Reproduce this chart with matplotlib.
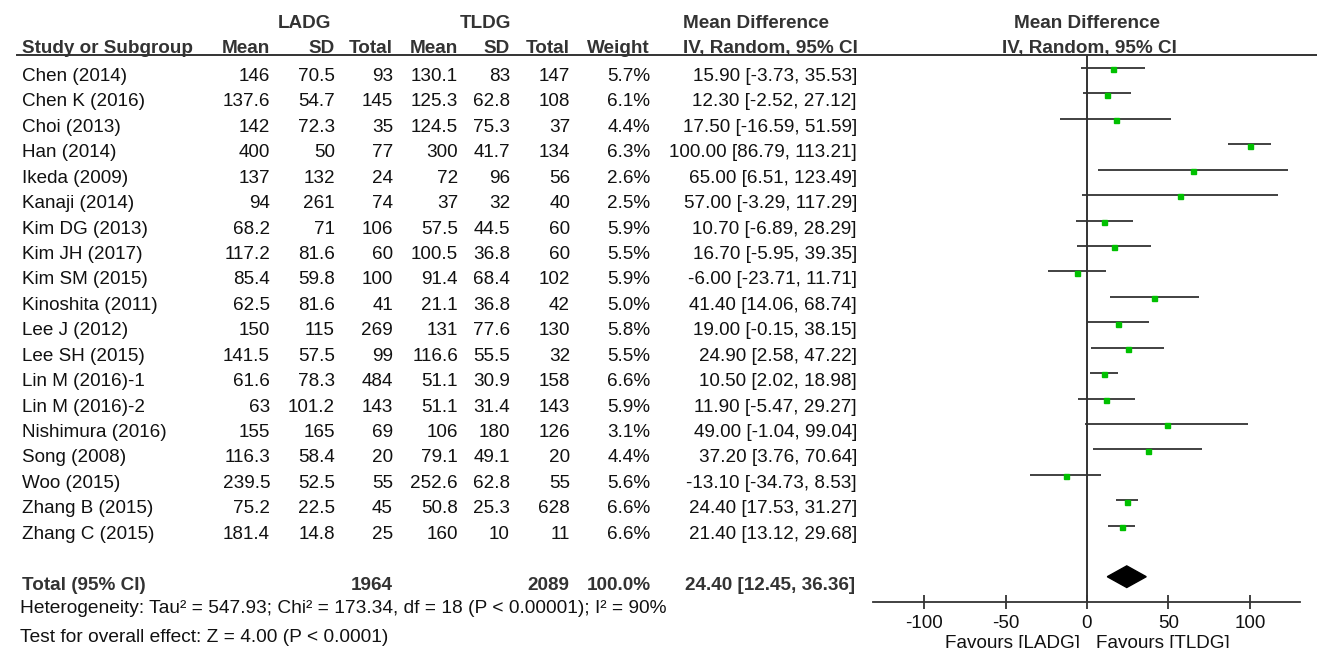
import matplotlib
matplotlib.use("Agg")
import matplotlib.pyplot as plt
from matplotlib.transforms import blended_transform_factory
from matplotlib.patches import Polygon

plt.rcParams['font.family'] = ['Liberation Sans', 'DejaVu Sans']

studies = ["Chen (2014)", "Chen K (2016)", "Choi (2013)", "Han (2014)", "Ikeda (2009)",
           "Kanaji (2014)", "Kim DG (2013)", "Kim JH (2017)", "Kim SM (2015)", "Kinoshita (2011)",
           "Lee J (2012)", "Lee SH (2015)", "Lin M (2016)-1", "Lin M (2016)-2", "Nishimura (2016)",
           "Song (2008)", "Woo (2015)", "Zhang B (2015)", "Zhang C (2015)"]
ladg_mean = ["146", "137.6", "142", "400", "137", "94", "68.2", "117.2", "85.4", "62.5",
             "150", "141.5", "61.6", "63", "155", "116.3", "239.5", "75.2", "181.4"]
ladg_sd = ["70.5", "54.7", "72.3", "50", "132", "261", "71", "81.6", "59.8", "81.6",
           "115", "57.5", "78.3", "101.2", "165", "58.4", "52.5", "22.5", "14.8"]
ladg_n = [93, 145, 35, 77, 24, 74, 106, 60, 100, 41, 269, 99, 484, 143, 69, 20, 55, 45, 25]
tldg_mean = ["130.1", "125.3", "124.5", "300", "72", "37", "57.5", "100.5", "91.4", "21.1",
             "131", "116.6", "51.1", "51.1", "106", "79.1", "252.6", "50.8", "160"]
tldg_sd = ["83", "62.8", "75.3", "41.7", "96", "32", "44.5", "36.8", "68.4", "36.8",
           "77.6", "55.5", "30.9", "31.4", "180", "49.1", "62.8", "25.3", "10"]
tldg_n = [147, 108, 37, 134, 56, 40, 60, 60, 102, 42, 130, 32, 158, 143, 126, 20, 55, 628, 11]
weight = [5.7, 6.1, 4.4, 6.3, 2.6, 2.5, 5.9, 5.5, 5.9, 5.0, 5.8, 5.5, 6.6, 5.9, 3.1, 4.4, 5.6, 6.6, 6.6]
md = [15.90, 12.30, 17.50, 100.00, 65.00, 57.00, 10.70, 16.70, -6.00, 41.40,
      19.00, 24.90, 10.50, 11.90, 49.00, 37.20, -13.10, 24.40, 21.40]
lo = [-3.73, -2.52, -16.59, 86.79, 6.51, -3.29, -6.89, -5.95, -23.71, 14.06,
      -0.15, 2.58, 2.02, -5.47, -1.04, 3.76, -34.73, 17.53, 13.12]
hi = [35.53, 27.12, 51.59, 113.21, 123.49, 117.29, 28.29, 39.35, 11.71, 68.74,
      38.15, 47.22, 18.98, 29.27, 99.04, 70.64, 8.53, 31.27, 29.68]
total_ladg, total_tldg = 1964, 2089
pooled_md, pooled_lo, pooled_hi = 24.40, 12.45, 36.36
xticks = [-100, -50, 0, 50, 100]
het_text = "Heterogeneity: Tau² = 547.93; Chi² = 173.34, df = 18 (P < 0.00001); I² = 90%"
effect_text = "Test for overall effect: Z = 4.00 (P < 0.0001)"

W, H = 1317, 648
fig = plt.figure(figsize=(W / 100, H / 100), dpi=100)
tax = fig.add_axes([0, 0, 1, 1])
tax.set_xlim(0, W)
tax.set_ylim(H, 0)
tax.axis('off')

# forest axes: pixel x 873..1300, y 55..602
row0, row_h = 68.0, 25.43
ax = fig.add_axes([873 / W, (H - 602) / H, (1300 - 873) / W, (602 - 55) / H])
ax.set_ylim((602 - row0) / row_h, (55 - row0) / row_h)
ax.set_xlim(-131.3, 130.7)
for s in ['top', 'right', 'left']:
    ax.spines[s].set_visible(False)
ax.spines['bottom'].set_color('#333333')
ax.spines['bottom'].set_linewidth(1.3)
ax.set_yticks([])
ax.set_xticks(xticks)
ax.set_xticklabels([str(t) for t in xticks])
ax.tick_params(axis='x', direction='inout', length=9.4, width=1.3, colors='#333333',
               labelsize=13.6, labelcolor='#111111', pad=5.0)
ax.axvline(0, color='#333333', lw=1.4, zorder=1)
ax.patch.set_alpha(0)

tc = '#111111'
bc = '#333333'
fs = 13.6
tr = blended_transform_factory(tax.transData, ax.transData)
boff = 13 / row_h  # baseline offset below the row line

for i in range(len(studies)):
    ax.plot([lo[i], hi[i]], [i, i], color='#333333', lw=1.3, zorder=2, solid_capstyle='butt')
    ax.plot([md[i]], [i + 0.05], marker='s', color='#00c000', ms=3.6, mec='#00c000', zorder=3)
    y = i + boff
    kw = dict(transform=tr, va='baseline', fontsize=fs, color=tc)
    tax.text(21.5, y, studies[i], ha='left', **kw)
    tax.text(270, y, ladg_mean[i], ha='right', **kw)
    tax.text(335, y, ladg_sd[i], ha='right', **kw)
    tax.text(393, y, str(ladg_n[i]), ha='right', **kw)
    tax.text(458, y, tldg_mean[i], ha='right', **kw)
    tax.text(510, y, tldg_sd[i], ha='right', **kw)
    tax.text(570, y, str(tldg_n[i]), ha='right', **kw)
    tax.text(650, y, f"{weight[i]:.1f}%", ha='right', **kw)
    tax.text(857, y, f"{md[i]:.2f} [{lo[i]:.2f}, {hi[i]:.2f}]", ha='right', **kw)

# total row
yt = (576.7 - row0) / row_h
dh = 0.425
ax.add_patch(Polygon([[pooled_lo, yt], [pooled_md, yt - dh], [pooled_hi, yt], [pooled_md, yt + dh]],
                     closed=True, color='black', zorder=3))
bold = dict(va='baseline', fontsize=fs, color=bc, fontweight='bold')
yb = 590
tax.text(21.5, yb, "Total (95% CI)", ha='left', **bold)
tax.text(393, yb, str(total_ladg), ha='right', **bold)
tax.text(569, yb, str(total_tldg), ha='right', **bold)
tax.text(651, yb, "100.0%", ha='right', **bold)
tax.text(855, yb, f"{pooled_md:.2f} [{pooled_lo:.2f}, {pooled_hi:.2f}]", ha='right', **bold)

tax.text(20, 613.3, het_text, ha='left', va='baseline', fontsize=13.8, color=tc)
tax.text(20, 641.7, effect_text, ha='left', va='baseline', fontsize=13.8, color=tc)

# headers
h1, h2 = 28, 53.3
tax.text(304, h1, "LADG", ha='center', **bold)
tax.text(485, h1, "TLDG", ha='center', **bold)
tax.text(683, h1, "Mean Difference", ha='left', **bold)
tax.text(1087, h1, "Mean Difference", ha='center', **bold)
tax.text(21.5, h2, "Study or Subgroup", ha='left', **bold)
tax.text(270, h2, "Mean", ha='right', **bold)
tax.text(335, h2, "SD", ha='right', **bold)
tax.text(393, h2, "Total", ha='right', **bold)
tax.text(458, h2, "Mean", ha='right', **bold)
tax.text(510, h2, "SD", ha='right', **bold)
tax.text(570, h2, "Total", ha='right', **bold)
tax.text(650, h2, "Weight", ha='right', **bold)
tax.text(683, h2, "IV, Random, 95% CI", ha='left', **bold)
tax.text(1089, h2, "IV, Random, 95% CI", ha='center', **bold)
tax.plot([17, W], [55, 55], color='#333333', lw=1.4)

tax.text(1080, 644, "Favours [LADG]", ha='right', va='center', fontsize=fs, color=tc)
tax.text(1096, 644, "Favours [TLDG]", ha='left', va='center', fontsize=fs, color=tc)

fig.savefig("out.png", dpi=100)
